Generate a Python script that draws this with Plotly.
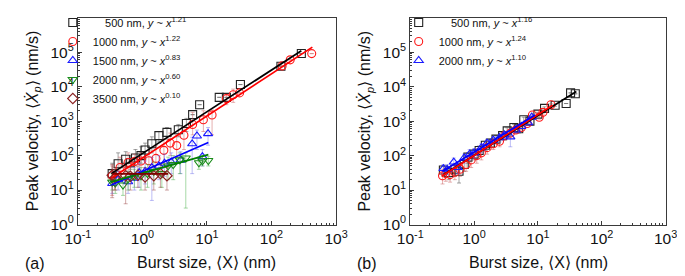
import plotly.graph_objects as go

# ---------------- data ----------------
# Panel (a)
a500_x = [0.34, 0.42, 0.55, 0.65, 0.78, 0.95, 1.1, 1.4, 1.8, 2.4, 3.6, 4.8, 6.0, 7.7, 15.5, 20, 33, 140, 290]
a500_y = [30, 58, 78, 62, 85, 100, 145, 220, 380, 470, 560, 850, 1540, 3000, 4900, 4900, 11500, 39000, 92000]
a500_lo = [14, 35, 45, 40, 50, 60, 80, 120, 250, 300, 350, 500, 1540, 3000, 4900, 4900, 11500, 39000, 92000]
a500_hi = [60, 120, 130, 100, 150, 180, 230, 350, 500, 650, 800, 1200, 1540, 3000, 4900, 4900, 11500, 39000, 92000]

a1000_x = [0.34, 0.37, 0.45, 0.60, 0.75, 0.95, 1.26, 1.62, 2.15, 2.7, 3.4, 4.4, 6.0, 8.8, 12, 20, 25.5, 32, 146, 195, 420]
a1000_y = [26, 21, 45, 63, 67, 70, 71, 83, 142, 230, 195, 390, 800, 1100, 1500, 4500, 5800, 6600, 40000, 60000, 91000]
a1000_lo = [7, 10, 20, 30, 25, 30, 30, 35, 60, 100, 90, 150, 400, 500, 400, 3000, 3500, 6600, 40000, 60000, 91000]
a1000_hi = [50, 40, 90, 120, 110, 120, 140, 200, 300, 450, 400, 700, 1800, 2000, 2100, 6000, 8500, 6600, 40000, 60000, 91000]

a1500_x = [0.34, 0.42, 0.6, 0.75, 0.89, 1.1, 1.4, 1.8, 2.2, 2.8, 3.9, 5.9, 7.0, 8.5, 10.4]
a1500_y = [15.5, 20, 17.5, 22, 32, 35, 45, 50, 60, 65, 74, 220, 370, 93, 435]
a1500_lo = [8, 10, 8, 10, 12, 15, 5, 20, 25, 30, 30, 30, 150, 50, 200]
a1500_hi = [25, 35, 35, 45, 60, 70, 90, 100, 110, 120, 130, 340, 550, 150, 650]

a2000_x = [0.34, 0.38, 0.5, 0.6, 0.75, 0.95, 1.2, 1.5, 2.0, 2.5, 3.0, 3.8, 4.7, 7.5, 8.5, 10.5]
a2000_y = [17, 16, 14, 21, 25, 26, 30, 35, 30, 50, 55, 75, 85, 62, 70, 72]
a2000_lo = [10, 8, 7, 10, 12, 10, 12, 15, 12, 20, 20, 30, 3, 40, 50, 50]
a2000_hi = [30, 25, 22, 35, 40, 45, 55, 65, 60, 90, 100, 120, 120, 90, 100, 95]

a3500_x = [0.34, 0.38, 0.55, 0.65, 0.85, 1.1, 1.5, 1.9, 2.4]
a3500_y = [27, 23, 26, 25, 27, 24, 26, 30, 26]
a3500_lo = [6, 10, 4, 10, 12, 10, 10, 12, 10]
a3500_hi = [55, 45, 50, 45, 50, 45, 50, 55, 45]

# fitted power-law lines, panel (a): end points
fa500_x, fa500_y = [0.33, 290], [30, 110000]
fa1000_x, fa1000_y = [0.33, 430], [22, 140000]
fa1500_x, fa1500_y = [0.33, 10.5], [14, 240]
fa2000_x, fa2000_y = [0.32, 10.5], [17, 107]
fa3500_x, fa3500_y = [0.34, 2.5], [29.5, 29.5]

# Panel (b)
b500_x = [0.33, 0.4, 0.5, 0.58, 0.7, 0.8, 1.0, 1.2, 1.5, 1.8, 2.2, 2.8, 3.3, 4.2, 5.0, 6.0, 7.5, 10, 12.7, 18.6, 27.7, 32.5, 38.5]
b500_y = [38, 32, 40, 35, 55, 90, 110, 140, 200, 230, 300, 380, 520, 650, 600, 1100, 1000, 1600, 2340, 2900, 3240, 6600, 6200]
b500_lo = [25, 20, 25, 16, 35, 60, 75, 100, 140, 170, 220, 300, 400, 500, 450, 900, 800, 1400, 2100, 2700, 3240, 6600, 6200]
b500_hi = [50, 45, 55, 60, 75, 120, 150, 190, 260, 300, 380, 470, 640, 800, 760, 1300, 1200, 1800, 2600, 3100, 3240, 6600, 6200]

b1000_x = [0.32, 0.36, 0.42, 0.5, 0.6, 0.75, 0.9, 1.1, 1.3, 1.6, 2.0, 2.5, 3.0, 3.7, 4.5, 5.5, 6.8, 8.2, 10.5, 12, 16]
b1000_y = [26, 30, 28, 33, 40, 55, 75, 100, 120, 170, 220, 260, 380, 450, 550, 650, 850, 1500, 1300, 1800, 3000]
b1000_lo = [15, 18, 17, 20, 25, 35, 45, 60, 75, 110, 150, 180, 280, 350, 450, 550, 750, 1300, 1150, 1600, 2800]
b1000_hi = [40, 45, 45, 50, 60, 85, 120, 160, 190, 260, 320, 360, 500, 560, 660, 760, 950, 1700, 1450, 2000, 3200]

b2000_x = [0.33, 0.38, 0.48, 0.55, 0.7, 0.85, 1.0, 1.3, 1.6, 2.0, 2.5, 3.0, 3.7, 4.5, 5.5, 7.0, 8.0]
b2000_y = [42, 40, 65, 45, 85, 110, 120, 170, 230, 280, 330, 400, 350, 550, 700, 900, 1300]
b2000_lo = [30, 28, 45, 30, 60, 75, 85, 120, 170, 210, 250, 320, 180, 450, 600, 800, 1150]
b2000_hi = [55, 55, 85, 60, 110, 150, 160, 220, 290, 350, 410, 480, 500, 650, 800, 1000, 1450]

fb500_x, fb500_y = [0.33, 40], [28, 7200]
fb1000_x, fb1000_y = [0.31, 17], [25, 2900]
fb2000_x, fb2000_y = [0.32, 9.0], [35, 1500]

# axis ticks
x_tickvals = [0.1, 1, 10, 100, 1000]
x_ticktext = ["10<sup>-1</sup>", "10<sup>0</sup>", "10<sup>1</sup>", "10<sup>2</sup>", "10<sup>3</sup>"]
y_tickvals = [1, 10, 100, 1000, 10000, 100000, 1000000]
y_ticktext = ["10<sup>0</sup>", "10<sup>1</sup>", "10<sup>2</sup>", "10<sup>3</sup>",
              "10<sup>4</sup>", "10<sup>5</sup>", "10<sup>6</sup>"]
x_minor = [m * 10 ** e for e in range(-1, 3) for m in range(2, 10)]
y_minor = [m * 10 ** e for e in range(0, 6) for m in range(2, 10)]

labels_a = ["\u2007\u2007500 nm, <i>y</i> ~ <i>x</i><sup>1.21</sup>",
            "1000 nm, <i>y</i> ~ <i>x</i><sup>1.22</sup>",
            "1500 nm, <i>y</i> ~ <i>x</i><sup>0.83</sup>",
            "2000 nm, <i>y</i> ~ <i>x</i><sup>0.60</sup>",
            "3500 nm, <i>y</i> ~ <i>x</i><sup>0.10</sup>"]
labels_b = ["\u2007\u2007500 nm, <i>y</i> ~ <i>x</i><sup>1.16</sup>",
            "1000 nm, <i>y</i> ~ <i>x</i><sup>1.24</sup>",
            "2000 nm, <i>y</i> ~ <i>x</i><sup>1.10</sup>"]

# ---------------- styling ----------------
FONT = "Liberation Sans, Arial, sans-serif"
AX = "#3a3a3a"

fig = go.Figure()


def add_series(x, y, lo, hi, name, symbol, color, ecolor, xa, ya, legend):
    fig.add_trace(go.Scatter(
        x=x, y=y, mode="markers", name=name, xaxis=xa, yaxis=ya, legend=legend,
        marker=dict(symbol=symbol, size=8, color=color,
                    line=dict(color=color, width=1.1)),
        error_y=dict(type="data", symmetric=False,
                     array=[h - v for h, v in zip(hi, y)],
                     arrayminus=[v - l for l, v in zip(lo, y)],
                     color=ecolor, thickness=1, width=2),
    ))


def add_fit(x, y, color, xa, ya):
    fig.add_trace(go.Scatter(x=x, y=y, mode="lines", xaxis=xa, yaxis=ya,
                             line=dict(color=color, width=1.7), showlegend=False,
                             hoverinfo="skip"))


# panel (a)
add_series(a500_x, a500_y, a500_lo, a500_hi, labels_a[0], "square-open", "#222222", "rgba(90,90,90,0.55)", "x", "y", "legend")
add_series(a1000_x, a1000_y, a1000_lo, a1000_hi, labels_a[1], "circle-open", "#ff1a1a", "rgba(200,80,80,0.45)", "x", "y", "legend")
add_series(a1500_x, a1500_y, a1500_lo, a1500_hi, labels_a[2], "triangle-up-open", "#1a1aff", "rgba(90,90,230,0.40)", "x", "y", "legend")
add_series(a2000_x, a2000_y, a2000_lo, a2000_hi, labels_a[3], "triangle-down-open", "#1a8c1a", "rgba(60,170,60,0.45)", "x", "y", "legend")
add_series(a3500_x, a3500_y, a3500_lo, a3500_hi, labels_a[4], "diamond-open", "#8b2020", "rgba(150,60,60,0.45)", "x", "y", "legend")
add_fit(fa500_x, fa500_y, "#000000", "x", "y")
add_fit(fa1000_x, fa1000_y, "#ff0000", "x", "y")
add_fit(fa1500_x, fa1500_y, "#0000ff", "x", "y")
add_fit(fa2000_x, fa2000_y, "#008000", "x", "y")
add_fit(fa3500_x, fa3500_y, "#800000", "x", "y")

# panel (b)
add_series(b500_x, b500_y, b500_lo, b500_hi, labels_b[0], "square-open", "#222222", "rgba(90,90,90,0.55)", "x2", "y2", "legend2")
add_series(b1000_x, b1000_y, b1000_lo, b1000_hi, labels_b[1], "circle-open", "#ff1a1a", "rgba(200,80,80,0.45)", "x2", "y2", "legend2")
add_series(b2000_x, b2000_y, b2000_lo, b2000_hi, labels_b[2], "triangle-up-open", "#1a1aff", "rgba(90,90,230,0.40)", "x2", "y2", "legend2")
add_fit(fb500_x, fb500_y, "#000000", "x2", "y2")
add_fit(fb1000_x, fb1000_y, "#ff0000", "x2", "y2")
add_fit(fb2000_x, fb2000_y, "#0000ff", "x2", "y2")

W, H = 685, 276


def xax(domain):
    return dict(type="log", domain=domain, range=[-1.0005, 3.0005], showgrid=False, zeroline=False,
                showline=True, linecolor=AX, linewidth=1, mirror=True,
                ticks="inside", ticklen=4, tickcolor=AX,
                tickmode="array", tickvals=x_tickvals, ticktext=x_ticktext,
                tickfont=dict(family=FONT, size=15.5, color="#111"),
                minor=dict(ticks="inside", ticklen=2, tickcolor=AX, tickmode="array",
                           tickvals=x_minor, showgrid=False))


def yax(anchor):
    return dict(type="log", domain=[53 / H, 266 / H], range=[-0.0005, 6.0005], anchor=anchor,
                showgrid=False, zeroline=False,
                showline=True, linecolor=AX, linewidth=1, mirror=True,
                ticks="inside", ticklen=4, tickcolor=AX,
                tickmode="array", tickvals=y_tickvals, ticktext=y_ticktext,
                tickfont=dict(family=FONT, size=15.5, color="#111"),
                minor=dict(ticks="inside", ticklen=2, tickcolor=AX, tickmode="array",
                           tickvals=y_minor, showgrid=False))


xa1 = xax([59 / W, 327 / W]); xa1["anchor"] = "y"
xa2 = xax([404 / W, 669 / W]); xa2["anchor"] = "y2"

ytitle = "Peak velocity, \u27e8<i>\u1e8a</i><sub><i>p</i></sub>\u27e9 (nm/s)"
xtitle = "Burst size, \u27e8X\u27e9 (nm)"

annotations = []
for xc in [193, 537]:
    annotations.append(dict(x=xc / W, y=1 - 262 / H, xref="paper", yref="paper",
                            text=xtitle, showarrow=False, xanchor="center", yanchor="middle",
                            font=dict(family=FONT, size=16, color="#111")))
for xc in [12, 357]:
    annotations.append(dict(x=xc / W, y=1 - 116 / H, xref="paper", yref="paper",
                            text=ytitle, showarrow=False, textangle=-90,
                            xanchor="center", yanchor="middle",
                            font=dict(family=FONT, size=16, color="#111")))
for xl, lab in [(2, "(a)"), (347, "(b)")]:
    annotations.append(dict(x=xl / W, y=1 - 263 / H, xref="paper", yref="paper",
                            text=lab, showarrow=False, xanchor="left", yanchor="middle",
                            font=dict(family=FONT, size=16, color="#111")))

fig.update_layout(
    width=W, height=H, margin=dict(l=0, r=0, t=0, b=0),
    paper_bgcolor="white", plot_bgcolor="white",
    xaxis=xa1, yaxis=yax("x"), xaxis2=xa2, yaxis2=yax("x2"),
    annotations=annotations,
    legend=dict(x=33 / W, y=1, xanchor="left", yanchor="top",
                bgcolor="rgba(0,0,0,0)", font=dict(family=FONT, size=11, color="#111"),
                itemwidth=30, tracegroupgap=0),
    legend2=dict(x=392 / W, y=1, xanchor="left", yanchor="top",
                 bgcolor="rgba(0,0,0,0)", font=dict(family=FONT, size=11, color="#111"),
                 itemwidth=30, tracegroupgap=0),
    showlegend=True,
)

fig.write_html("out.html")
